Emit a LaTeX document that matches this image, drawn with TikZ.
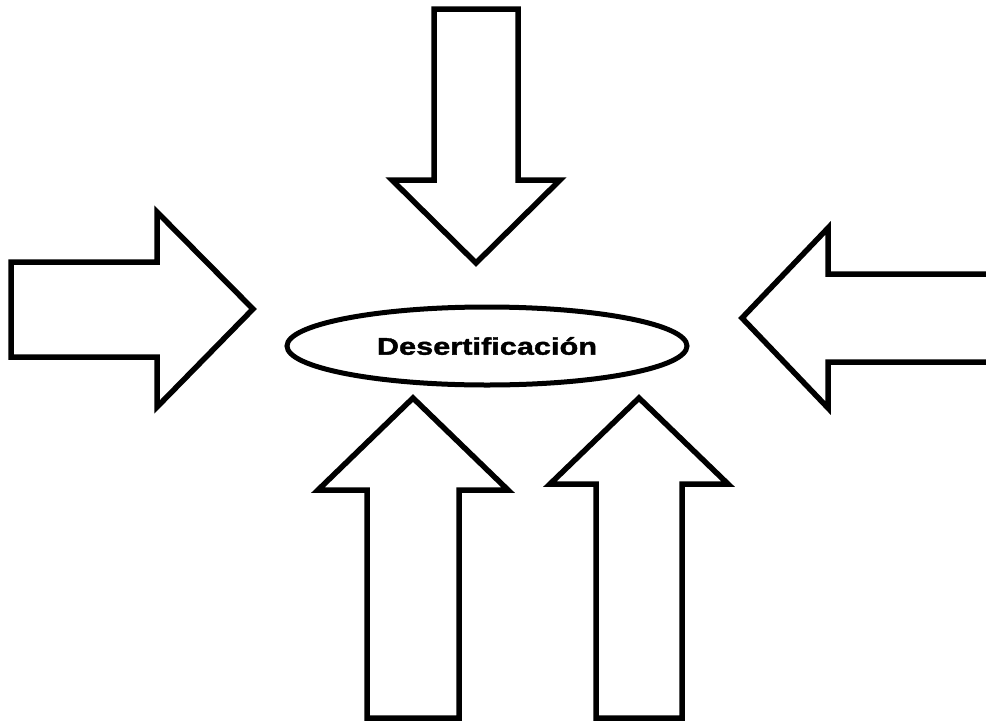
\documentclass[tikz,border=0pt]{standalone}
\usepackage{fontspec}
\setmainfont{Liberation Sans}
\newfontfamily\heavyfont[FakeStretch=1.28, FakeBold=1.6]{Liberation Sans Bold}
\usepackage{tikz}
\usetikzlibrary{shapes.geometric, positioning}

\begin{document}
\begin{tikzpicture}[
    x=1pt, y=-1pt,
    font=\heavyfont\fontsize{24}{29}\selectfont,
    blockarrow/.style={draw, line width=5.5pt, fill=white, miter limit=10},
    core/.style={draw, ellipse, line width=5pt, fill=white,
                 minimum width=400pt, minimum height=78pt, inner sep=0pt},
]
% page frame, right arrow runs off the edge
\useasboundingbox (0,0) rectangle (986,721);
\clip (0,0) rectangle (986,721);

% central topic
\node[core] (desert) at (487,346) {Desertificaci\'on};

% arrows pointing in from the top and the sides
\draw[blockarrow] (434,9) -- (518,9) -- (518,180) -- (560,180) -- (476,263)
    -- (392,180) -- (434,180) -- cycle;
\draw[blockarrow] (11,262) -- (157,262) -- (157,212) -- (253,309) -- (157,407)
    -- (157,357) -- (11,357) -- cycle;
\draw[blockarrow] (1010,274) -- (828,274) -- (828,228) -- (742,318) -- (828,408)
    -- (828,362) -- (1010,362);

% arrows pointing up from below
\draw[blockarrow] (367,718) -- (367,490) -- (318,490) -- (413,398) -- (508,490)
    -- (459,490) -- (459,718) -- cycle;
\draw[blockarrow] (596,718) -- (596,484) -- (550,484) -- (639,398) -- (728,484)
    -- (682,484) -- (682,718) -- cycle;
\end{tikzpicture}
\end{document}
